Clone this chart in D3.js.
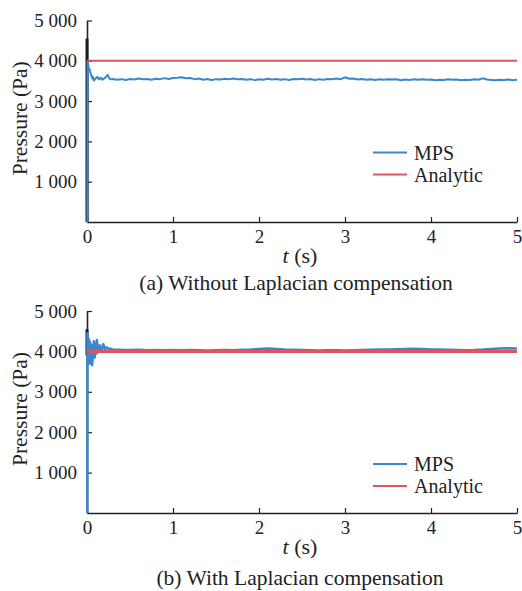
<!DOCTYPE html>
<html>
<head>
<meta charset="utf-8">
<script src="https://cdn.jsdelivr.net/npm/d3@7"></script>
<style>
  body { margin: 0; background: #fff; }
</style>
</head>
<body>
<svg id="chart" width="522" height="591"></svg>
<script>
// tick values / labels
var xTicks = [0, 1, 2, 3, 4, 5];
var yTicks = [1000, 2000, 3000, 4000, 5000];
var yTickLabels = ["1 000", "2 000", "3 000", "4 000", "5 000"];
var seriesNames = ["MPS", "Analytic"];
var captions = ["(a) Without Laplacian compensation", "(b) With Laplacian compensation"];

// analytic hydrostatic pressure [t, p]
var analytic = [[0, 4000], [5, 4000]];

// start-up spikes at t = 0
var spikeA = [[0, 0], [0, 4550]];
var spikeB = [[0, 3900], [0, 4550]];

// (a) MPS without Laplacian compensation [t, p]
var mpsA = [
  [0.004, 0], [0.006, 3980], [0.01, 3900], [0.015, 3920], [0.02, 3820], [0.03, 3800],
  [0.04, 3700], [0.05, 3640], [0.06, 3560], [0.07, 3600], [0.08, 3510], [0.1, 3560],
  [0.12, 3600], [0.14, 3540], [0.16, 3580], [0.18, 3530], [0.2, 3560], [0.22, 3600],
  [0.24, 3650], [0.26, 3560], [0.28, 3540], [0.3, 3550],
  [0.35, 3530], [0.4, 3545], [0.45, 3525], [0.5, 3550], [0.55, 3535], [0.6, 3560],
  [0.65, 3540], [0.7, 3550], [0.75, 3530], [0.8, 3555], [0.85, 3545], [0.9, 3570],
  [0.95, 3550], [1.0, 3575], [1.05, 3580], [1.1, 3590], [1.15, 3565], [1.2, 3575],
  [1.25, 3545], [1.3, 3560], [1.35, 3530], [1.4, 3550], [1.45, 3525], [1.5, 3545],
  [1.55, 3535], [1.6, 3555], [1.65, 3540], [1.7, 3560], [1.75, 3545], [1.8, 3550],
  [1.85, 3530], [1.9, 3545], [1.95, 3520], [2.0, 3540], [2.05, 3530], [2.1, 3555],
  [2.15, 3535], [2.2, 3550], [2.25, 3530], [2.3, 3545], [2.35, 3525], [2.4, 3550],
  [2.45, 3540], [2.5, 3555], [2.55, 3535], [2.6, 3550], [2.65, 3525], [2.7, 3545],
  [2.75, 3530], [2.8, 3550], [2.85, 3540], [2.9, 3560], [2.95, 3545], [3.0, 3590],
  [3.05, 3555], [3.1, 3560], [3.15, 3535], [3.2, 3550], [3.25, 3530], [3.3, 3540],
  [3.35, 3525], [3.4, 3540], [3.45, 3530], [3.5, 3545], [3.55, 3535], [3.6, 3540],
  [3.65, 3520], [3.7, 3535], [3.75, 3525], [3.8, 3540], [3.85, 3530], [3.9, 3545],
  [3.95, 3530], [4.0, 3535], [4.05, 3520], [4.1, 3530], [4.15, 3525], [4.2, 3540],
  [4.25, 3530], [4.3, 3535], [4.35, 3520], [4.4, 3530], [4.45, 3525], [4.5, 3540],
  [4.55, 3530], [4.6, 3565], [4.65, 3535], [4.7, 3525], [4.75, 3515], [4.8, 3530],
  [4.85, 3525], [4.9, 3535], [4.95, 3520], [5.0, 3530]
];

// (b) MPS with Laplacian compensation [t, p]
var mpsB = [
  [0.003, 0], [0.005, 4450], [0.008, 3900], [0.012, 4350], [0.016, 3800], [0.02, 4300],
  [0.025, 3700], [0.03, 4250], [0.035, 3850], [0.04, 4200], [0.045, 3700], [0.05, 4150],
  [0.055, 3750], [0.06, 3660], [0.07, 3950], [0.08, 4250], [0.09, 3850], [0.1, 4200],
  [0.11, 3950], [0.115, 4280], [0.13, 3980], [0.15, 4150], [0.17, 4000], [0.19, 4180],
  [0.21, 4060], [0.23, 4100], [0.25, 4060], [0.27, 4070], [0.3, 4050],
  [0.4, 4040], [0.5, 4035], [0.6, 4040], [0.7, 4030], [0.8, 4035], [0.9, 4030],
  [1.0, 4035], [1.1, 4030], [1.2, 4035], [1.3, 4030], [1.4, 4025], [1.5, 4030],
  [1.6, 4035], [1.7, 4030], [1.8, 4040], [1.9, 4045], [2.0, 4060], [2.1, 4070],
  [2.2, 4060], [2.3, 4045], [2.4, 4040], [2.5, 4035], [2.6, 4030], [2.7, 4025],
  [2.8, 4030], [2.9, 4030], [3.0, 4025], [3.1, 4030], [3.2, 4035], [3.3, 4040],
  [3.4, 4045], [3.5, 4050], [3.6, 4055], [3.7, 4060], [3.8, 4065], [3.9, 4060],
  [4.0, 4050], [4.1, 4045], [4.2, 4040], [4.3, 4035], [4.4, 4030], [4.5, 4035],
  [4.6, 4045], [4.7, 4060], [4.8, 4070], [4.9, 4075], [5.0, 4070]
];

var blue = "#3b87c9";
var red = "#e0545e";
var ink = "#222";
var serif = "'Liberation Serif', serif";

var svg = d3.select("#chart");

var panels = [
  {top: 20.5, bottom: 222, mps: mpsA, spike: spikeA, caption: captions[0], capX: 296, capY: 290,
   legY: 152.5, mpsW: 2, redW: 2},
  {top: 311, bottom: 513, mps: mpsB, spike: spikeB, caption: captions[1], capX: 300, capY: 585,
   legY: 464, mpsW: 2.5, redW: 3}
];

var x = d3.scaleLinear().domain([0, 5]).range([87, 517]);

panels.forEach(function(p) {
  var y = d3.scaleLinear().domain([0, 5000]).range([p.bottom, p.top]);
  var line = d3.line().x(function(d){ return x(d[0]) }).y(function(d){ return y(d[1]) });

  var g = svg.append("g");

  // x axis, ticks pointing in
  var xAxis = g.append("g")
    .attr("transform", `translate(0,${p.bottom})`)
    .call(d3.axisBottom(x).tickValues(xTicks).tickFormat(d3.format("d"))
      .tickSizeInner(-5).tickSizeOuter(0).tickPadding(8));

  var yAxis = g.append("g")
    .attr("transform", "translate(87,0)")
    .call(d3.axisLeft(y).tickValues(yTicks).tickSizeInner(-5).tickSizeOuter(0).tickPadding(10)
      .tickFormat(function(d, i){ return yTickLabels[i] }));

  [xAxis, yAxis].forEach(function(a) {
    a.selectAll("text").attr("fill", ink).style("font-family", serif).style("font-size", "19px");
    a.select(".domain").attr("stroke", ink).attr("stroke-width", 1.6);
    a.selectAll(".tick line").attr("stroke", ink).attr("stroke-width", 1.2);
  });

  // data
  g.append("path").datum(p.spike)
    .attr("d", line).attr("fill", "none").attr("stroke", "#1a1a1a").attr("stroke-width", 3);
  g.append("path").datum(p.mps)
    .attr("d", line).attr("fill", "none").attr("stroke", blue)
    .attr("stroke-width", p.mpsW).attr("stroke-linejoin", "round");
  g.append("path").datum(analytic)
    .attr("d", line).attr("fill", "none").attr("stroke", red).attr("stroke-width", p.redW);

  // legend
  var leg = g.append("g").attr("transform", `translate(373,${p.legY})`);
  [blue, red].forEach(function(c, i) {
    leg.append("line").attr("x1", 0).attr("x2", 34).attr("y1", i * 22).attr("y2", i * 22)
      .attr("stroke", c).attr("stroke-width", 1.8);
    leg.append("text").attr("x", 41).attr("y", i * 22 + 7)
      .style("font-family", serif).style("font-size", "20px").attr("fill", ink).text(seriesNames[i]);
  });

  // axis titles
  g.append("text")
    .attr("transform", `translate(27,${(p.top + p.bottom) / 2 - 3}) rotate(-90)`)
    .attr("text-anchor", "middle").style("font-family", serif).style("font-size", "21.5px").attr("fill", ink)
    .text("Pressure (Pa)");

  var xt = g.append("text").attr("x", 300).attr("y", p.bottom + 41)
    .attr("text-anchor", "middle").style("font-family", serif).style("font-size", "22px").attr("fill", ink);
  xt.append("tspan").style("font-style", "italic").text("t");
  xt.append("tspan").text(" (s)");

  g.append("text").attr("x", p.capX).attr("y", p.capY)
    .attr("text-anchor", "middle").style("font-family", serif).style("font-size", "21.5px").attr("fill", ink)
    .text(p.caption);
});
</script>
</body>
</html>
